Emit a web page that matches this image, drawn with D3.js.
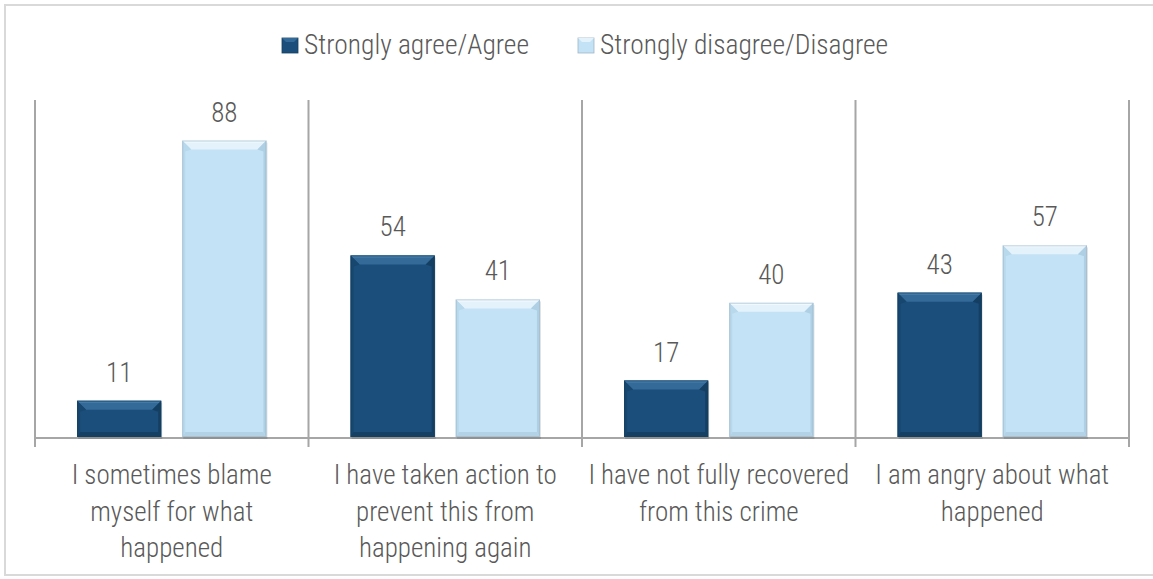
<!DOCTYPE html>
<html><head><meta charset="utf-8">
<script src="https://cdn.jsdelivr.net/npm/d3@7"></script>
<style>
html,body{margin:0;padding:0;background:#fff;}
svg{display:block;}
text{font-family:"Roboto Condensed","Liberation Sans Narrow","DejaVu Sans Condensed",sans-serif;fill:#595959;}
</style></head>
<body><svg id="c" width="1153" height="579"></svg>
<script>
const categories = [
  ["I sometimes blame","myself for what","happened"],
  ["I have taken action to","prevent this from","happening again"],
  ["I have not fully recovered","from this crime"],
  ["I am angry about what","happened"]
];
const seriesNames = ["Strongly agree/Agree","Strongly disagree/Disagree"];
const agreeValues = [11, 54, 17, 43];
const disagreeValues = [88, 41, 40, 57];
const yDomain = [0, 100];

const svg = d3.select("#c");
const pLeft = 35, pRight = 1129, pTop = 100, pBottom = 438;

svg.append("rect").attr("x",5).attr("y",5).attr("width",1160).attr("height",570)
  .attr("fill","none").attr("stroke","#d9d9d9").attr("stroke-width",2);

const catIdx = categories.map((d,i)=>i);
const x0 = d3.scaleBand().domain(catIdx).range([pLeft,pRight]).paddingInner(0).paddingOuter(0);
const x1 = d3.scaleBand().domain([0,1]).range([0,x0.bandwidth()]).paddingInner(0.2).paddingOuter(0.4);
const y = d3.scaleLinear().domain(yDomain).range([pBottom,pTop]);

const colors = [
  {base:"#1b4e7a", top:"#336a97", topHi:"#4a80ad", side:"#17466e", right:"#143f63", bottom:"#153f63", stroke:"#14405f"},
  {base:"#c4e2f5", top:"#e3f2fb", topHi:"#f4fbff", side:"#b8d8ec", right:"#aecfe4", bottom:"#b3d2e6", stroke:"#9fb6c6"}
];

const seps = catIdx.map(i=>x0(i)).concat([x0(catIdx.length-1)+x0.bandwidth()]);
svg.append("g").selectAll("line").data(seps).join("line")
  .attr("x1",d=>d).attr("x2",d=>d).attr("y1",pTop).attr("y2",pBottom+9)
  .attr("stroke","#a6a6a6").attr("stroke-width",2);
svg.append("line").attr("x1",pLeft).attr("x2",pRight).attr("y1",pBottom).attr("y2",pBottom)
  .attr("stroke","#a6a6a6").attr("stroke-width",2);

const bars = [];
catIdx.forEach(i=>{
  [agreeValues[i], disagreeValues[i]].forEach((v,s)=>bars.push({i,s,v}));
});

const g = svg.append("g");
bars.forEach(b=>{
  const bx = x0(b.i)+x1(b.s), bw = x1.bandwidth();
  const by = y(b.v), bh = y(0)-y(b.v);
  const c = colors[b.s];
  const bg = g.append("g");
  bg.append("rect").attr("x",bx+1).attr("y",by+2).attr("width",bw).attr("height",bh-1)
    .attr("fill","#000").attr("opacity",0.12);
  bg.append("rect").attr("x",bx).attr("y",by).attr("width",bw).attr("height",bh-1).attr("fill",c.base);
  const t = Math.min(9, bh/3), sd = 3, bt = Math.min(5,bh/4);
  bg.append("polygon").attr("points",[[bx,by],[bx+bw,by],[bx+bw-t,by+t],[bx+t,by+t]].join(" "))
    .attr("fill",c.top);
  bg.append("polygon").attr("points",[[bx,by],[bx+bw,by],[bx+bw-2,by+2],[bx+2,by+2]].join(" "))
    .attr("fill",c.topHi);
  bg.append("polygon").attr("points",[[bx,by],[bx+t,by+t],[bx+sd,by+t+2],[bx+sd,by+bh-1-bt],[bx,by+bh-1]].join(" "))
    .attr("fill",c.side);
  bg.append("polygon").attr("points",[[bx+bw,by],[bx+bw-t,by+t],[bx+bw-sd,by+t+2],[bx+bw-sd,by+bh-1-bt],[bx+bw,by+bh-1]].join(" "))
    .attr("fill",c.right);
  bg.append("polygon").attr("points",[[bx,by+bh-1],[bx+sd,by+bh-1-bt],[bx+bw-sd,by+bh-1-bt],[bx+bw,by+bh-1]].join(" "))
    .attr("fill",c.bottom);
  bg.append("rect").attr("x",bx+0.5).attr("y",by+0.5).attr("width",bw-1).attr("height",bh-2)
    .attr("fill","none").attr("stroke",c.stroke).attr("stroke-width",1).attr("opacity",0.6);
});

g.append("g").selectAll("text").data(bars).join("text")
  .attr("x",d=>x0(d.i)+x1(d.s)+x1.bandwidth()/2)
  .attr("y",d=>y(d.v)-19)
  .attr("text-anchor","middle").attr("font-size",27).attr("font-weight",300)
  .text(d=>d.v);

const cl = svg.append("g");
categories.forEach((lines,i)=>{
  const cx = x0(i)+x0.bandwidth()/2;
  const t = cl.append("text").attr("text-anchor","middle").attr("font-size",27).attr("font-weight",300).attr("x",cx);
  lines.forEach((ln,k)=>t.append("tspan").attr("x",cx).attr("y",484+k*36.5).text(ln));
});

const legX = [282, 578];
seriesNames.forEach((n,s)=>{
  const lg = svg.append("g");
  const c = colors[s];
  lg.append("rect").attr("x",legX[s]).attr("y",38).attr("width",16).attr("height",15).attr("fill",c.base)
    .attr("stroke",c.stroke).attr("stroke-width",0.8);
  lg.append("polygon").attr("points",[[legX[s],38],[legX[s]+16,38],[legX[s]+12,42],[legX[s]+4,42]].join(" ")).attr("fill",c.top);
  lg.append("text").attr("x",legX[s]+22).attr("y",54).attr("font-size",27.5).attr("font-weight",300).text(n);
});
</script></body></html>
